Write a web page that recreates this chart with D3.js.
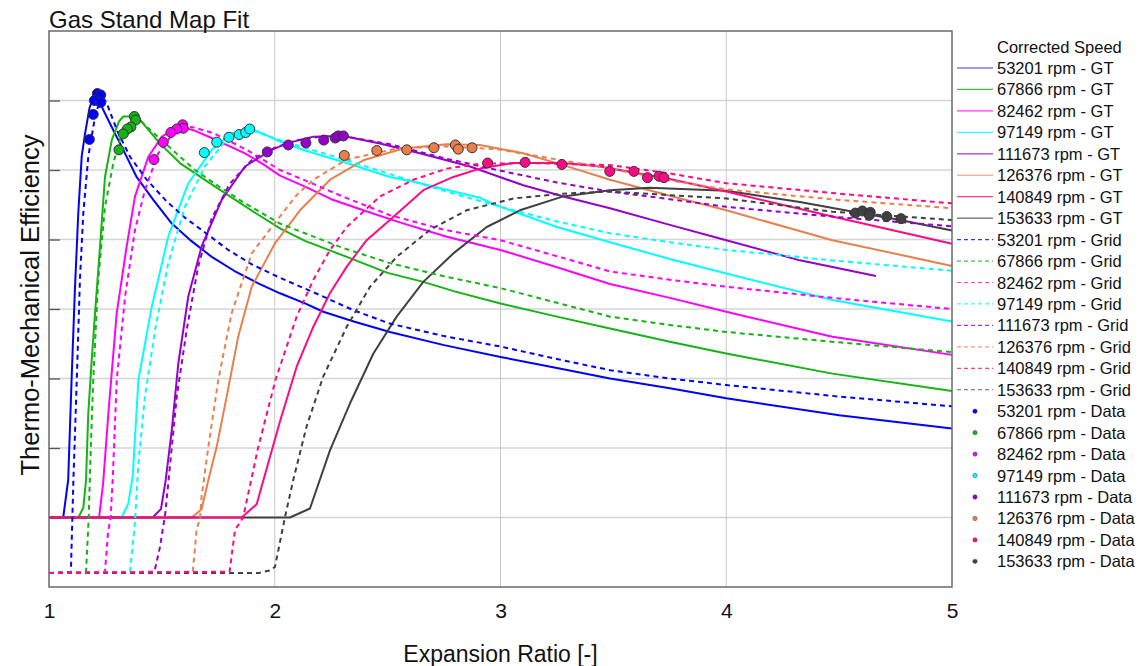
<!DOCTYPE html>
<html><head><meta charset="utf-8">
<script src="https://cdn.jsdelivr.net/npm/d3@7"></script>
<style>
body{margin:0;background:#fff}
svg{display:block;font-family:"Liberation Sans",Arial,Helvetica,sans-serif}
</style>
</head><body>
<svg id="chart" width="1143" height="666"></svg>
<script>
// ---------- data ----------
const speeds = ["53201", "67866", "82462", "97149", "111673", "126376", "140849", "153633"];
const colors = ["#0000FF", "#14B414", "#FF00FF", "#00FFFF", "#9400CC", "#E8804D", "#FF0A84", "#404040"];
const xTicks = [1, 2, 3, 4, 5];
const yTicks = [0, 0.1, 0.2, 0.3, 0.4, 0.5, 0.6];

// GT fitted curves (solid)
const gt53201 = [[1,0],[1.063,0],[1.085,0.054],[1.1,0.198],[1.115,0.33],[1.13,0.44],[1.145,0.52],[1.16,0.553],[1.18,0.59],[1.204,0.61],[1.226,0.596],[1.27,0.567],[1.329,0.529],[1.388,0.49],[1.462,0.457],[1.544,0.423],[1.63,0.398],[1.721,0.375],[1.82,0.355],[1.927,0.337],[2.023,0.3226],[2.134,0.308],[2.215,0.296],[2.35,0.282],[2.51,0.267],[2.75,0.248],[3,0.231],[3.25,0.215],[3.485,0.2],[3.75,0.186],[4,0.1715],[4.5,0.147],[5,0.128]];
const gt67866 = [[1,0],[1.13,0],[1.152,0.014],[1.164,0.054],[1.174,0.15],[1.19,0.23],[1.204,0.294],[1.226,0.39],[1.248,0.49],[1.278,0.543],[1.31,0.57],[1.329,0.577],[1.388,0.577],[1.403,0.572],[1.492,0.538],[1.58,0.51],[1.699,0.484],[1.82,0.458],[1.92,0.437],[2.023,0.416],[2.134,0.398],[2.319,0.375],[2.5,0.352],[2.658,0.339],[2.8,0.325],[3,0.308],[3.25,0.289],[3.485,0.272],[3.75,0.253],[4,0.236],[4.47,0.207],[5,0.182]];
const gt82462 = [[1,0],[1.222,0],[1.24,0.05],[1.263,0.15],[1.3,0.294],[1.344,0.39],[1.381,0.462],[1.44,0.519],[1.5,0.548],[1.55,0.558],[1.588,0.562],[1.65,0.556],[1.721,0.546],[1.868,0.524],[1.95,0.508],[2.023,0.492],[2.134,0.476],[2.25,0.458],[2.392,0.442],[2.55,0.425],[2.762,0.404],[3,0.385],[3.25,0.36],[3.485,0.336],[3.75,0.316],[4,0.296],[4.47,0.26],[5,0.234]];
const gt97149 = [[1,0],[1.322,0],[1.351,0.02],[1.371,0.06],[1.396,0.198],[1.455,0.303],[1.528,0.404],[1.617,0.481],[1.721,0.529],[1.809,0.553],[1.898,0.559],[1.95,0.552],[2.023,0.541],[2.134,0.528],[2.319,0.51],[2.51,0.49],[2.614,0.483],[2.909,0.46],[3,0.447],[3.25,0.418],[3.485,0.396],[3.75,0.372],[4,0.351],[4.47,0.313],[5,0.282]];
const gt111673 = [[1,0],[1.459,0],[1.496,0.012],[1.517,0.054],[1.544,0.126],[1.573,0.222],[1.617,0.318],[1.676,0.39],[1.765,0.457],[1.868,0.505],[1.986,0.529],[2.06,0.539],[2.171,0.548],[2.304,0.549],[2.466,0.538],[2.643,0.524],[2.865,0.505],[3.101,0.478],[3.3,0.46],[3.485,0.445],[3.75,0.421],[4,0.399],[4.326,0.37],[4.663,0.3475]];
const gt126376 = [[1,0],[1.632,0],[1.676,0.012],[1.706,0.054],[1.743,0.102],[1.787,0.174],[1.838,0.26],[1.898,0.332],[2.0,0.394],[2.112,0.442],[2.245,0.486],[2.392,0.514],[2.57,0.531],[2.762,0.537],[2.909,0.536],[3.101,0.524],[3.278,0.507],[3.485,0.486],[3.75,0.463],[4,0.442],[4.47,0.399],[5,0.362]];
const gt140849 = [[1,0],[1.853,0],[1.92,0.019],[1.95,0.054],[1.99,0.1],[2.023,0.138],[2.097,0.217],[2.171,0.2745],[2.245,0.323],[2.319,0.361],[2.407,0.399],[2.51,0.428],[2.658,0.471],[2.791,0.49],[2.909,0.502],[3.057,0.51],[3.278,0.51],[3.44,0.505],[3.75,0.487],[4,0.469],[4.47,0.433],[5,0.394]];
const gt153633 = [[1,0],[2.067,0],[2.156,0.013],[2.245,0.097],[2.333,0.164],[2.437,0.236],[2.54,0.289],[2.658,0.339],[2.791,0.38],[2.939,0.418],[3.086,0.442],[3.278,0.462],[3.485,0.471],[3.66,0.4745],[4,0.47],[4.326,0.454],[4.563,0.44],[4.77,0.428],[5,0.413]];

// Grid curves (dashed)
const grid53201 = [[1,-0.08],[1.097,-0.078],[1.108,0.054],[1.123,0.198],[1.137,0.342],[1.152,0.438],[1.174,0.519],[1.204,0.577],[1.233,0.608],[1.256,0.596],[1.3,0.558],[1.359,0.519],[1.433,0.486],[1.521,0.455],[1.6,0.432],[1.7,0.408],[1.794,0.385],[1.9,0.364],[2.016,0.346],[2.2,0.32],[2.35,0.298],[2.51,0.279],[2.75,0.261],[3,0.246],[3.25,0.228],[3.485,0.212],[3.75,0.2],[4,0.1906],[4.5,0.174],[5,0.16]];
const grid67866 = [[1,-0.08],[1.164,-0.078],[1.176,0],[1.185,0.1],[1.196,0.198],[1.218,0.342],[1.248,0.447],[1.285,0.51],[1.322,0.553],[1.36,0.568],[1.396,0.574],[1.44,0.56],[1.5,0.543],[1.57,0.522],[1.647,0.5],[1.75,0.477],[1.868,0.452],[2.023,0.423],[2.134,0.409],[2.3,0.388],[2.51,0.366],[2.75,0.347],[3,0.33],[3.25,0.309],[3.485,0.289],[3.75,0.277],[4,0.267],[4.5,0.252],[5,0.238]];
const grid82462 = [[1,-0.08],[1.248,-0.078],[1.262,-0.02],[1.273,0],[1.283,0.06],[1.3,0.198],[1.337,0.318],[1.381,0.414],[1.425,0.471],[1.484,0.524],[1.543,0.55],[1.59,0.559],[1.632,0.562],[1.728,0.553],[1.876,0.529],[2.023,0.5],[2.134,0.485],[2.3,0.462],[2.51,0.435],[2.75,0.414],[3,0.399],[3.25,0.376],[3.485,0.354],[3.75,0.342],[4,0.332],[4.5,0.315],[5,0.3]];
const grid97149 = [[1,-0.08],[1.359,-0.078],[1.38,-0.01],[1.396,0.078],[1.425,0.174],[1.47,0.27],[1.528,0.366],[1.602,0.447],[1.69,0.505],[1.78,0.541],[1.84,0.552],[1.898,0.557],[1.96,0.55],[2.023,0.543],[2.134,0.532],[2.319,0.514],[2.51,0.494],[2.75,0.47],[3,0.447],[3.25,0.426],[3.485,0.409],[3.75,0.396],[4,0.385],[4.5,0.369],[5,0.355]];
const grid111673 = [[1,-0.08],[1.467,-0.078],[1.492,-0.042],[1.515,0.006],[1.537,0.078],[1.566,0.174],[1.61,0.27],[1.66,0.36],[1.72,0.43],[1.8,0.48],[1.9,0.515],[2.0,0.532],[2.1,0.543],[2.2,0.548],[2.3,0.549],[2.51,0.537],[2.75,0.517],[3,0.499],[3.25,0.482],[3.485,0.469],[3.75,0.458],[4,0.447],[4.5,0.432],[5,0.419]];
const grid126376 = [[1,-0.08],[1.637,-0.078],[1.654,-0.018],[1.669,0],[1.676,0.03],[1.706,0.102],[1.75,0.198],[1.809,0.294],[1.898,0.38],[2.02,0.432],[2.1,0.465],[2.171,0.486],[2.319,0.515],[2.54,0.531],[2.762,0.534],[2.983,0.53],[3.2,0.518],[3.485,0.502],[3.75,0.485],[4,0.472],[4.5,0.457],[5,0.445]];
const grid140849 = [[1,-0.08],[1.80,-0.078],[1.824,-0.018],[1.86,0],[1.926,0.1],[2.005,0.2],[2.023,0.217],[2.097,0.289],[2.171,0.342],[2.245,0.385],[2.319,0.418],[2.466,0.462],[2.614,0.486],[2.762,0.502],[2.909,0.509],[3.13,0.51],[3.485,0.507],[3.75,0.495],[4,0.481],[4.5,0.466],[5,0.452]];
const grid153633 = [[1,-0.08],[1.927,-0.08],[1.98,-0.076],[2.001,-0.071],[2.045,0],[2.082,0.054],[2.141,0.131],[2.215,0.203],[2.319,0.2745],[2.422,0.332],[2.54,0.375],[2.688,0.414],[2.85,0.442],[3.057,0.459],[3.278,0.466],[3.485,0.469],[4,0.459],[4.47,0.44],[5,0.428]];

// Measured data points
const data53201 = [[1.214,0.610],[1.229,0.608],[1.201,0.600],[1.229,0.597],[1.196,0.580],[1.179,0.544]];
const data67866 = [[1.378,0.577],[1.384,0.572],[1.363,0.562],[1.347,0.559],[1.329,0.552],[1.310,0.529]];
const data82462 = [[1.592,0.565],[1.595,0.560],[1.566,0.559],[1.540,0.554],[1.506,0.540],[1.465,0.515]];
const data97149 = [[1.688,0.525],[1.743,0.540],[1.797,0.547],[1.842,0.551],[1.871,0.554],[1.889,0.559]];
const data111673 = [[1.967,0.526],[2.060,0.536],[2.138,0.539],[2.217,0.543],[2.268,0.546],[2.281,0.549],[2.304,0.549]];
const data126376 = [[2.308,0.521],[2.452,0.528],[2.585,0.529],[2.705,0.532],[2.800,0.536],[2.813,0.530],[2.874,0.532]];
const data140849 = [[2.943,0.510],[3.109,0.511],[3.272,0.508],[3.484,0.498],[3.591,0.498],[3.651,0.489],[3.702,0.491],[3.724,0.489]];
const data153633 = [[4.572,0.438],[4.603,0.441],[4.638,0.439],[4.634,0.435],[4.711,0.433],[4.774,0.430]];

const gtSeries = [gt53201, gt67866, gt82462, gt97149, gt111673, gt126376, gt140849, gt153633];
const gridSeries = [grid53201, grid67866, grid82462, grid97149, grid111673, grid126376, grid140849, grid153633];
const dataSeries = [data53201, data67866, data82462, data97149, data111673, data126376, data140849, data153633];

// ---------- layout ----------
const svg = d3.select("#chart");
const L = 49, R = 952, T = 31, B = 587;
const x = d3.scaleLinear().domain([1, 5]).range([L, R]);
const y = d3.scaleLinear().domain([-0.1, 0.7]).range([B, T]);

// gridlines
svg.append("g").selectAll("line").data(yTicks).join("line")
  .attr("x1", L).attr("x2", R).attr("y1", d => y(d)).attr("y2", d => y(d))
  .attr("stroke", "#d4d4d4").attr("stroke-width", 1.4);
svg.append("g").selectAll("line").data(xTicks.slice(1, -1)).join("line")
  .attr("x1", d => x(d)).attr("x2", d => x(d)).attr("y1", T).attr("y2", B)
  .attr("stroke", "#c8c8c8").attr("stroke-width", 1);

// axes
const yAxis = svg.append("g").attr("transform", `translate(${L},0)`)
  .call(d3.axisRight(y).tickValues(yTicks).tickSize(11).tickFormat(""));
yAxis.select(".domain").remove();
yAxis.selectAll("line").attr("stroke", "#555").attr("stroke-width", 1.3);

const xAxis = svg.append("g").attr("transform", `translate(0,${B})`)
  .call(d3.axisBottom(x).tickValues(xTicks).tickSize(0).tickPadding(16).tickFormat(d3.format("d")));
xAxis.select(".domain").remove();
xAxis.selectAll("text").attr("font-size", 21).attr("fill", "#111")
  .attr("font-family", '"Liberation Sans", Arial, sans-serif');

// lines
const line = d3.line().x(d => x(d[0])).y(d => y(d[1]));
const drawOrder = [0, 1, 2, 3, 4, 5, 7, 6];
const plot = svg.append("g");
drawOrder.forEach(i => {
  plot.append("path").datum(gtSeries[i]).attr("d", line)
    .attr("fill", "none").attr("stroke", colors[i]).attr("stroke-width", 2)
    .attr("stroke-linejoin", "round");
});
drawOrder.forEach(i => {
  plot.append("path").datum(gridSeries[i]).attr("d", line)
    .attr("fill", "none").attr("stroke", colors[i]).attr("stroke-width", 2)
    .attr("stroke-dasharray", "5,4");
});
dataSeries.forEach((s, i) => {
  plot.append("g").selectAll("circle").data(s).join("circle")
    .attr("cx", d => x(d[0])).attr("cy", d => y(d[1])).attr("r", 5)
    .attr("fill", colors[i]).attr("stroke", "#333").attr("stroke-width", 1);
});

// frame
svg.append("rect").attr("x", L).attr("y", T).attr("width", R - L).attr("height", B - T)
  .attr("fill", "none").attr("stroke", "#6a6a6a").attr("stroke-width", 1.5);

// titles
svg.append("text").attr("x", 49).attr("y", 28).attr("font-size", 24).attr("fill", "#111")
  .text("Gas Stand Map Fit");
svg.append("text").attr("x", (L + R) / 2).attr("y", 662).attr("text-anchor", "middle")
  .attr("font-size", 23).attr("fill", "#111").text("Expansion Ratio [-]");
svg.append("text").attr("transform", `translate(39,305) rotate(-90)`)
  .attr("text-anchor", "middle").attr("font-size", 25.5).attr("fill", "#111")
  .text("Thermo-Mechanical Efficiency");

// legend
const leg = svg.append("g");
leg.append("text").attr("x", 997).attr("y", 52.5).attr("font-size", 16.5).attr("fill", "#111")
  .text("Corrected Speed");
const rowY = k => 68 + k * 21.45;
speeds.forEach((s, i) => {
  const yy = rowY(i);
  leg.append("line").attr("x1", 957).attr("x2", 993).attr("y1", yy).attr("y2", yy)
    .attr("stroke", colors[i]).attr("stroke-width", 1.2).attr("stroke-opacity", 0.8);
  leg.append("text").attr("x", 997).attr("y", yy + 6).attr("font-size", 16.5).attr("fill", "#111")
    .text(`${s} rpm - GT`);
});
speeds.forEach((s, i) => {
  const yy = rowY(i + 8);
  leg.append("line").attr("x1", 957).attr("x2", 993).attr("y1", yy).attr("y2", yy)
    .attr("stroke", colors[i]).attr("stroke-width", 1.2).attr("stroke-opacity", 0.8)
    .attr("stroke-dasharray", "4,3");
  leg.append("text").attr("x", 997).attr("y", yy + 6).attr("font-size", 16.5).attr("fill", "#111")
    .text(`${s} rpm - Grid`);
});
speeds.forEach((s, i) => {
  const yy = rowY(i + 16);
  leg.append("circle").attr("cx", 975).attr("cy", yy).attr("r", 2.2)
    .attr("fill", colors[i]).attr("stroke", "#444").attr("stroke-width", 0.5);
  leg.append("text").attr("x", 997).attr("y", yy + 6).attr("font-size", 16.5).attr("fill", "#111")
    .text(`${s} rpm - Data`);
});
</script>
</body></html>
